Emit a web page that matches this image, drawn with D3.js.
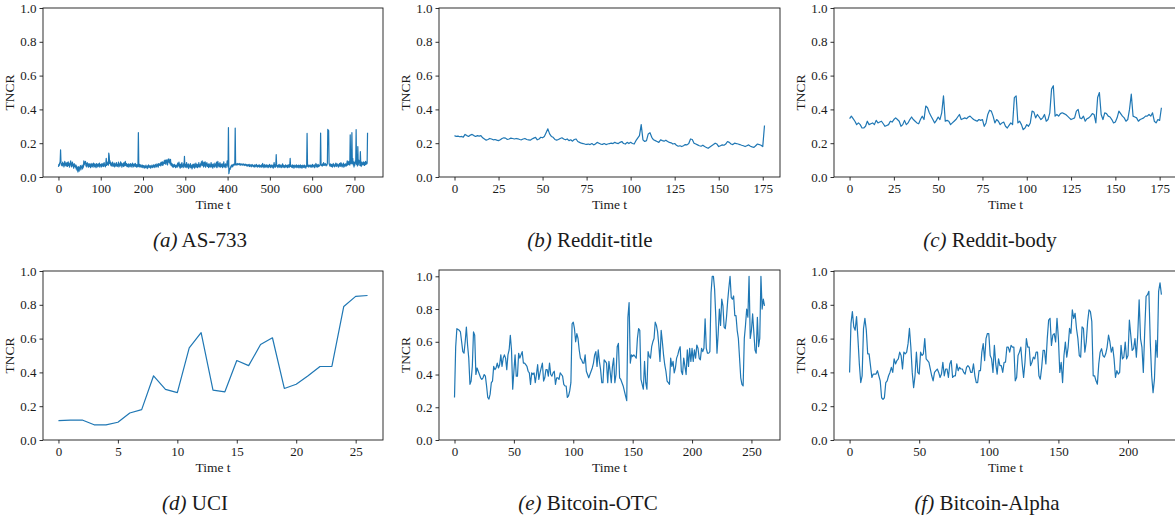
<!DOCTYPE html>
<html>
<head>
<meta charset="utf-8">
<script src="https://cdn.jsdelivr.net/npm/d3@7"></script>
<style>
  body { margin: 0; background: #fff; }
  svg text { font-family: "Liberation Serif", "DejaVu Serif", serif; fill: #1a1a1a; }
</style>
</head>
<body>
<svg id="chart" width="1175" height="521"></svg>
<script>
// ---- data ----
let as733 = [
.060,.075,.068,.082,.090,.160,.085,.070,.078,.065,.088,.072,.080,.060,.075,.092,.070,.082,.065,.078,
.085,.062,.075,.090,.068,.080,.058,.072,.085,.095,.070,.060,.078,.088,.066,.074,.052,.080,.070,.062,
.058,.072,.048,.065,.040,.055,.030,.062,.045,.035,.058,.050,.068,.042,.060,.055,.070,.048,.065,.058,
.095,.072,.088,.080,.092,.066,.078,.060,.085,.070,.075,.058,.080,.068,.062,.078,.055,.072,.065,.080,
.060,.075,.068,.082,.058,.070,.078,.062,.072,.055,.080,.066,.074,.060,.078,.070,.064,.082,.058,.072,
.068,.075,.060,.080,.070,.065,.078,.062,.085,.070,.072,.060,.078,.110,.068,.082,.075,.090,.070,.142,
.125,.080,.095,.072,.085,.065,.078,.070,.088,.062,.075,.068,.082,.060,.070,.078,.065,.085,.070,.062,
.075,.068,.088,.060,.078,.072,.065,.090,.070,.082,.058,.075,.068,.080,.062,.085,.070,.066,.092,.075,
.068,.080,.062,.075,.070,.058,.078,.066,.072,.060,.080,.070,.064,.075,.058,.082,.068,.072,.060,.078,
.070,.065,.080,.062,.074,.058,.072,.068,.060,.262,.070,.062,.075,.058,.068,.072,.060,.066,.055,.070,
.062,.058,.068,.052,.065,.060,.055,.070,.058,.062,.050,.066,.060,.072,.055,.064,.058,.068,.052,.062,
.060,.070,.055,.065,.058,.072,.062,.068,.055,.075,.064,.070,.060,.078,.066,.072,.058,.080,.068,.075,
.070,.082,.065,.088,.075,.072,.090,.068,.085,.078,.095,.080,.100,.088,.075,.102,.085,.095,.072,.105,
.090,.108,.085,.100,.078,.105,.070,.082,.065,.078,.060,.072,.058,.068,.075,.062,.070,.055,.068,.060,
.072,.058,.082,.065,.070,.088,.060,.075,.052,.068,.078,.058,.085,.062,.070,.055,.080,.065,.122,.060,
.075,.058,.068,.085,.055,.070,.062,.078,.050,.072,.065,.060,.080,.055,.070,.062,.048,.068,.075,.058,
.065,.078,.052,.070,.060,.082,.058,.068,.075,.055,.072,.062,.085,.060,.070,.058,.078,.065,.090,.072,
.095,.068,.082,.060,.088,.072,.065,.090,.058,.078,.070,.085,.062,.075,.068,.055,.080,.062,.072,.058,
.070,.085,.060,.075,.065,.052,.078,.062,.070,.058,.082,.066,.074,.060,.088,.055,.072,.092,.065,.078,
.060,.070,.085,.058,.075,.068,.062,.080,.055,.072,.065,.090,.058,.070,.062,.078,.055,.068,.072,.095,
.075,.060,.292,.020,.035,.050,.045,.060,.055,.070,.065,.072,.060,.068,.075,.070,.078,.072,.290,.075,
.070,.078,.075,.072,.080,.076,.074,.078,.072,.080,.075,.070,.078,.074,.072,.076,.070,.078,.073,.070,
.075,.068,.072,.076,.070,.066,.074,.070,.064,.072,.068,.075,.062,.070,.066,.072,.060,.068,.074,.064,
.070,.062,.068,.058,.072,.065,.070,.060,.075,.064,.068,.058,.070,.062,.066,.072,.058,.068,.064,.060,
.072,.058,.066,.080,.062,.070,.056,.068,.074,.060,.066,.058,.072,.064,.060,.070,.055,.068,.062,.075,
.060,.068,.055,.072,.062,.066,.058,.070,.052,.068,.085,.060,.072,.058,.066,.132,.070,.062,.068,.055,
.070,.062,.075,.058,.068,.060,.072,.055,.066,.062,.078,.058,.070,.064,.055,.068,.060,.072,.058,.066,
.062,.070,.055,.068,.060,.074,.058,.066,.110,.062,.070,.058,.065,.055,.072,.060,.068,.052,.064,.070,
.058,.066,.060,.072,.055,.068,.062,.058,.070,.054,.066,.060,.072,.056,.064,.068,.052,.062,.070,.058,
.066,.055,.070,.060,.064,.052,.068,.062,.258,.075,.062,.070,.058,.068,.064,.072,.060,.066,.058,.070,
.062,.075,.058,.068,.064,.072,.055,.070,.066,.080,.060,.072,.068,.058,.075,.062,.070,.065,.068,.072,
.260,.075,.068,.072,.065,.078,.070,.085,.068,.075,.070,.080,.072,.066,.075,.070,.082,.282,.278,.275,
.080,.072,.065,.078,.070,.062,.075,.068,.058,.072,.080,.065,.070,.060,.075,.068,.082,.062,.072,.078,
.066,.070,.058,.075,.068,.080,.062,.072,.085,.065,.078,.060,.072,.068,.082,.058,.075,.070,.064,.078,
.072,.065,.080,.095,.070,.088,.075,.092,.080,.070,.250,.085,.078,.095,.262,.080,.110,.072,.090,.060,
.085,.070,.095,.082,.280,.075,.090,.065,.180,.072,.100,.085,.095,.068,.150,.078,.062,.088,.070,.082,
.075,.090,.072,.085,.068,.080,.092,.075,.088,.078,.082,.262
];

let redditTitle = [
.245,.24,.242,.238,.24,.236,.252,.245,.24,.248,
.252,.245,.24,.245,.242,.245,.232,.225,.218,.222,
.228,.225,.22,.222,.218,.215,.22,.228,.232,.23,
.222,.225,.23,.228,.225,.228,.226,.222,.22,.225,
.228,.222,.22,.218,.225,.23,.235,.22,.225,.235,
.232,.24,.262,.285,.255,.24,.235,.222,.218,.222,
.228,.232,.225,.22,.225,.215,.22,.212,.222,.225,
.21,.205,.2,.198,.195,.193,.195,.192,.198,.19,
.195,.205,.2,.195,.193,.198,.192,.195,.198,.2,
.198,.205,.2,.198,.205,.21,.198,.195,.205,.198,
.205,.198,.195,.215,.23,.245,.31,.22,.21,.215,
.255,.262,.235,.22,.215,.21,.205,.22,.215,.212,
.218,.21,.205,.202,.195,.198,.188,.182,.185,.18,
.185,.192,.19,.198,.225,.222,.2,.195,.19,.185,
.182,.188,.18,.175,.17,.178,.185,.192,.2,.195,
.18,.185,.19,.188,.195,.21,.205,.195,.192,.2,
.198,.195,.192,.188,.185,.18,.185,.19,.182,.178,
.175,.185,.195,.192,.188,.18,.305
];

let redditBody = [
.345,.36,.345,.33,.31,.32,.31,.29,.29,.30,
.33,.31,.315,.32,.31,.335,.32,.325,.33,.315,
.30,.305,.31,.33,.325,.34,.35,.34,.33,.30,
.31,.335,.31,.32,.34,.355,.34,.33,.32,.315,
.34,.36,.34,.42,.41,.38,.36,.34,.32,.335,
.355,.34,.38,.48,.33,.335,.33,.31,.32,.33,
.34,.355,.37,.34,.345,.35,.345,.355,.36,.35,
.34,.335,.33,.34,.335,.34,.30,.32,.37,.395,
.39,.36,.32,.34,.33,.31,.32,.325,.30,.29,
.305,.32,.31,.47,.48,.32,.33,.31,.28,.29,
.31,.30,.32,.39,.385,.35,.37,.355,.34,.35,
.37,.33,.34,.38,.52,.54,.36,.37,.36,.375,
.38,.375,.37,.36,.35,.34,.345,.35,.39,.40,
.35,.345,.36,.33,.345,.35,.36,.375,.37,.32,
.47,.50,.37,.34,.38,.375,.36,.355,.34,.32,
.325,.35,.39,.375,.36,.35,.33,.34,.40,.49,
.36,.355,.35,.33,.34,.345,.35,.36,.36,.37,
.36,.38,.33,.32,.34,.335,.41
];

let uci = [.115,.118,.118,.09,.09,.105,.16,.18,.38,.30,.28,.545,.635,.295,.285,.47,.44,.565,.605,.305,.33,.38,.435,.435,.79,.85,.855];

let bitcoinOtc = [
.26,.57,.68,.675,.67,.66,.60,.54,.53,.60,
.69,.58,.50,.34,.36,.45,.66,.64,.40,.44,
.42,.40,.38,.37,.38,.40,.39,.33,.26,.25,
.28,.35,.36,.45,.43,.44,.47,.44,.46,.52,
.45,.50,.52,.50,.43,.52,.55,.64,.55,.31,
.42,.52,.39,.39,.53,.50,.52,.54,.47,.47,
.46,.45,.42,.41,.34,.41,.40,.41,.35,.40,
.46,.37,.41,.44,.47,.36,.38,.43,.43,.39,
.47,.40,.39,.41,.42,.34,.38,.38,.37,.41,
.40,.39,.34,.33,.33,.26,.27,.30,.35,.71,
.72,.68,.60,.65,.62,.55,.50,.49,.47,.47,
.52,.42,.40,.38,.40,.42,.44,.47,.52,.54,
.45,.55,.48,.43,.35,.35,.49,.48,.47,.35,
.48,.42,.35,.45,.50,.35,.40,.57,.59,.38,
.37,.35,.33,.30,.27,.24,.75,.84,.47,.52,
.51,.52,.51,.50,.62,.68,.67,.37,.34,.31,
.48,.35,.31,.54,.51,.50,.57,.60,.62,.72,
.70,.66,.58,.48,.67,.60,.52,.46,.42,.36,
.35,.34,.50,.45,.48,.41,.44,.50,.52,.55,
.57,.42,.40,.50,.45,.40,.55,.45,.56,.48,
.56,.48,.55,.50,.58,.56,.50,.49,.56,.54,
.56,.74,.56,.53,.53,.54,.90,1.0,1.0,.92,
.75,.53,.65,.80,.70,.86,.82,.69,.68,.75,
.85,.93,1.0,.87,.86,.88,.76,.76,.67,.62,
.50,.38,.34,.33,.62,.70,.80,.75,1.0,.62,
.67,.77,.66,.55,.53,.75,.57,.62,1.0,.80,
.86,.82
];

let bitcoinAlpha = [
.40,.69,.76,.67,.65,.73,.60,.45,.34,.38,
.66,.72,.65,.51,.51,.44,.37,.39,.39,.39,
.41,.38,.35,.25,.24,.25,.34,.35,.38,.40,
.43,.40,.48,.45,.47,.48,.52,.50,.42,.52,
.51,.52,.57,.66,.55,.40,.31,.38,.52,.40,
.39,.52,.50,.51,.60,.48,.47,.46,.42,.38,
.35,.40,.41,.42,.40,.37,.39,.46,.38,.42,
.42,.37,.45,.47,.37,.38,.38,.45,.41,.43,
.42,.42,.40,.39,.43,.44,.43,.40,.40,.45,
.38,.34,.34,.41,.41,.52,.57,.47,.60,.63,
.63,.50,.48,.40,.56,.45,.39,.48,.44,.44,
.40,.46,.46,.55,.55,.52,.56,.55,.55,.35,
.37,.50,.52,.55,.45,.37,.46,.60,.55,.55,
.44,.46,.49,.48,.52,.52,.38,.36,.43,.53,
.53,.45,.60,.71,.72,.56,.62,.63,.58,.72,
.60,.40,.46,.34,.50,.58,.49,.55,.66,.63,
.77,.72,.75,.66,.60,.50,.49,.67,.66,.52,
.58,.70,.77,.76,.70,.38,.38,.35,.33,.45,
.52,.54,.50,.49,.51,.55,.62,.58,.52,.55,
.48,.37,.41,.39,.40,.56,.48,.49,.58,.48,
.50,.71,.62,.53,.54,.60,.49,.62,.83,.60,
.55,.40,.64,.85,.86,.88,.58,.38,.28,.36,
.59,.49,.88,.93,.86
];

let yTicks = [0, 0.2, 0.4, 0.6, 0.8, 1.0];
let xTicksA = [0, 100, 200, 300, 400, 500, 600, 700];
let xTicksReddit = [0, 25, 50, 75, 100, 125, 150, 175];
let xTicksUci = [0, 5, 10, 15, 20, 25];
let xTicksOtc = [0, 50, 100, 150, 200, 250];
let xTicksAlpha = [0, 50, 100, 150, 200];

let captionLetters = ["(a)", "(b)", "(c)", "(d)", "(e)", "(f)"];
let captionNames = ["AS-733", "Reddit-title", "Reddit-body", "UCI", "Bitcoin-OTC", "Bitcoin-Alpha"];

// ---- layout of the six panels ----
let panels = [
  {data: as733,        ticks: xTicksA,      left: 43,  right: 383,  top: 8,   bottom: 177, ymax: 1.0,    cap: [200, 247]},
  {data: redditTitle,  ticks: xTicksReddit, left: 439, right: 780,  top: 8,   bottom: 177, ymax: 1.0,    cap: [590, 247]},
  {data: redditBody,   ticks: xTicksReddit, left: 834, right: 1177, top: 8,   bottom: 177, ymax: 1.0,    cap: [990, 247]},
  {data: uci,          ticks: xTicksUci,    left: 43,  right: 383,  top: 271, bottom: 440, ymax: 1.0,    cap: [195, 510]},
  {data: bitcoinOtc,   ticks: xTicksOtc,    left: 439, right: 780,  top: 270, bottom: 440, ymax: 1.0385, cap: [588, 510]},
  {data: bitcoinAlpha, ticks: xTicksAlpha,  left: 834, right: 1177, top: 271, bottom: 440, ymax: 1.0,    cap: [987, 510]}
];

let svg = d3.select("#chart");

panels.forEach((p, i) => {
  let n = p.data.length - 1;
  let pad = n * 0.05;
  let x = d3.scaleLinear().domain([-pad, n + pad]).range([p.left, p.right]);
  let y = d3.scaleLinear().domain([0, p.ymax]).range([p.bottom, p.top]);

  let g = svg.append("g");

  // line
  let line = d3.line().x((d, j) => x(j)).y(d => y(d));
  g.append("path")
    .datum(p.data)
    .attr("d", line)
    .attr("fill", "none")
    .attr("stroke", "#1f77b4")
    .attr("stroke-width", 1.2)
    .attr("stroke-linejoin", "round");

  // axes
  let xAxis = d3.axisBottom(x).tickValues(p.ticks).tickSize(3.5).tickPadding(3).tickFormat(d3.format("d"));
  let yAxis = d3.axisLeft(y).tickValues(yTicks).tickSize(3.5).tickPadding(3).tickFormat(d3.format(".1f"));

  let gx = g.append("g").attr("transform", "translate(0," + p.bottom + ")").call(xAxis);
  let gy = g.append("g").attr("transform", "translate(" + p.left + ",0)").call(yAxis);
  [gx, gy].forEach(ax => {
    ax.select(".domain").remove();
    ax.selectAll("line").attr("stroke", "#1a1a1a").attr("stroke-width", 0.9);
    ax.selectAll("text").style("font-size", "13px").attr("fill", "#1a1a1a");
  });

  // frame
  g.append("rect")
    .attr("x", p.left).attr("y", p.top)
    .attr("width", p.right - p.left).attr("height", p.bottom - p.top)
    .attr("fill", "none").attr("stroke", "#1a1a1a").attr("stroke-width", 0.9);

  // axis labels
  g.append("text")
    .attr("x", (p.left + p.right) / 2 > 1000 ? x(n / 2) : (p.left + p.right) / 2)
    .attr("y", p.bottom + 32)
    .attr("text-anchor", "middle")
    .style("font-size", "13.5px")
    .text("Time t");

  g.append("text")
    .attr("transform", "translate(" + (p.left - 29) + "," + ((p.top + p.bottom) / 2) + ") rotate(-90)")
    .attr("text-anchor", "middle")
    .style("font-size", "13.5px")
    .text("TNCR");

  // caption
  let cap = g.append("text")
    .attr("x", p.cap[0]).attr("y", p.cap[1])
    .attr("text-anchor", "middle")
    .style("font-size", "21px");
  cap.append("tspan").style("font-style", "italic").text(captionLetters[i]);
  cap.append("tspan").text(" " + captionNames[i]);
});
</script>
</body>
</html>
